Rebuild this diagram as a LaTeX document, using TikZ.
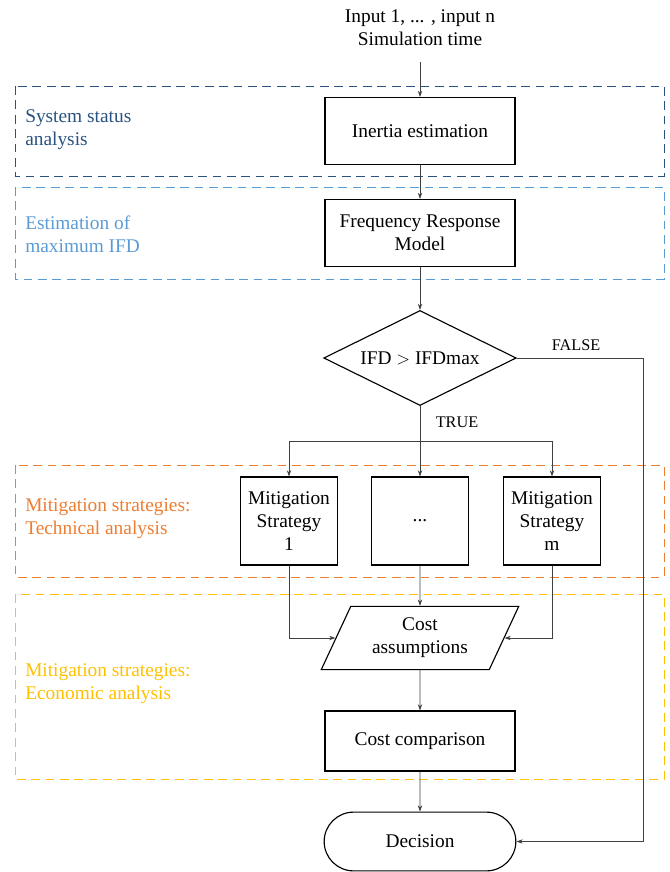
\documentclass[tikz,border=0pt]{standalone}
\usepackage{fontspec}
\setmainfont{Liberation Serif}
\usepackage{xcolor}
\usetikzlibrary{arrows.meta, positioning, shapes.geometric, shapes.misc}
\definecolor{statusblue}{RGB}{41, 82, 128}
\definecolor{ifdblue}{RGB}{91, 155, 213}
\definecolor{techorange}{RGB}{237, 125, 49}
\definecolor{econyellow}{RGB}{255, 192, 0}

\begin{document}
\begin{tikzpicture}[x=0.8pt, y=-0.8pt,
    font=\fontsize{15.5}{18.5}\selectfont,
    block/.style={draw, line width=0.9pt, align=center, inner sep=2pt, minimum width=152pt, minimum height=53.6pt},
    strategy/.style={block, minimum width=78pt, minimum height=70.4pt},
    zone/.style={dash pattern=on 7pt off 4.5pt, line width=0.7pt},
    zonelabel/.style={anchor=west, align=left, inner sep=0pt},
    arr/.style={-{Stealth[length=5pt, width=3.5pt]}, black!75, line width=0.5pt},
    tag/.style={font=\fontsize{13}{15}\selectfont}]
    \useasboundingbox (0,0) rectangle (670,872);

    % analysis zones
    \draw[zone, statusblue] (15,86) rectangle (664,176);
    \draw[zone, ifdblue] (15,187) rectangle (664,279);
    \draw[zone, techorange] (15,465) rectangle (664,577);
    \draw[zone, econyellow] (15,594) rectangle (664,779);
    \node[zonelabel, statusblue] (lblstatus) at (25,130) {System status\\analysis};
    \node[zonelabel, ifdblue] (lblifd) at (25,234) {Estimation of\\maximum IFD};
    \node[zonelabel, techorange] (lbltech) at (25,519) {Mitigation strategies:\\Technical analysis};
    \node[zonelabel, econyellow] (lblecon) at (25,684) {Mitigation strategies:\\Economic analysis};

    % flow
    \node[align=center] (inputs) at (420,28) {Input 1, ... , input n\\Simulation time};
    \coordinate (start) at (420,62);
    \node[block] (inertia) at (420,131) {Inertia estimation};
    \node[block] (frm) at (420,233) {Frequency Response\\Model};
    \node[diamond, draw, line width=0.9pt, inner sep=0pt, aspect=2.03, minimum width=154pt, minimum height=76pt] (check) at (420,358) {IFD $>$ IFDmax};
    \coordinate (split) at (420,441);
    \node[strategy] (ms1) at (289,521) {Mitigation\\Strategy\\1};
    \node[strategy, minimum width=77pt] (ms2) at (420,521) {...};
    \node[strategy] (ms3) at (552,521) {Mitigation\\Strategy\\m};
    \node[trapezium, draw, line width=0.9pt, align=center, trapezium left angle=65, trapezium right angle=115,
        trapezium stretches body, minimum width=158pt, inner xsep=2pt, inner ysep=9.3pt] (cost) at (420,638) {Cost\\assumptions};
    \node[block, minimum height=48pt] (compare) at (420,741) {Cost comparison};
    \node[rounded rectangle, draw, line width=0.9pt, minimum width=160pt, minimum height=47pt] (decision) at (420,841.5) {Decision};

    % connectors
    \draw[arr] (start) -- (inertia);
    \draw[arr] (inertia) -- (frm);
    \draw[arr] (frm) -- (check);
    \draw[arr] (check.south) -- (ms2.north);
    \draw[arr] (split) -| (ms1.north);
    \draw[arr] (split) -| (ms3.north);
    \draw[arr] (check.east) -- ++(126,0) |- (decision.east);
    \node[tag] (false) at (576,345) {FALSE};
    \node[tag] (true) at (457,422) {TRUE};
    \draw[arr] (ms1.south) |- (cost.west);
    \draw[arr] (ms3.south) |- (cost.east);
    \draw[arr] (ms2) -- (cost);
    \draw[arr] (cost) -- (compare);
    \draw[arr] (compare) -- (decision);
\end{tikzpicture}
\end{document}
